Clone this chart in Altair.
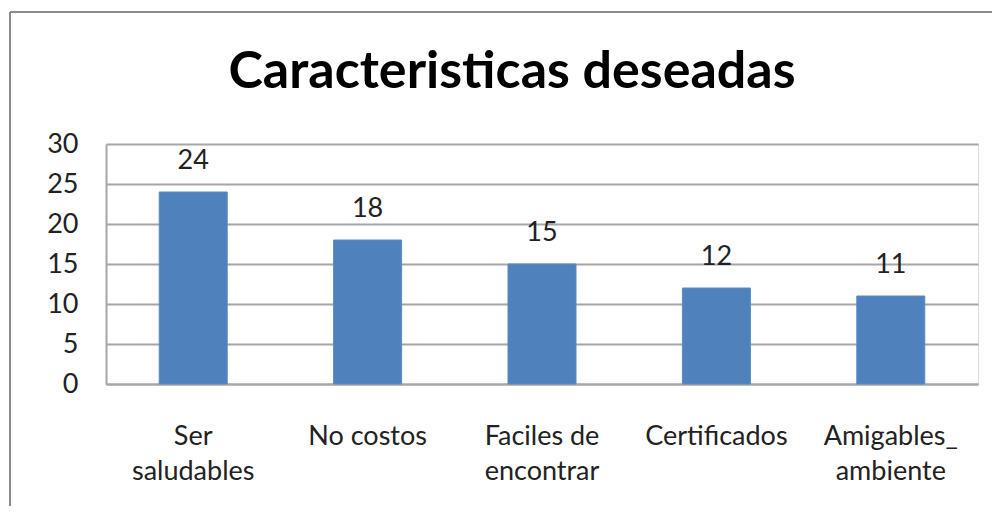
import altair as alt
import pandas as pd

categories = ["Ser\nsaludables", "No costos", "Faciles de\nencontrar", "Certificados", "Amigables_\nambiente"]
values = [24, 18, 15, 12, 11]
y_ticks = [0, 5, 10, 15, 20, 25, 30]
title_text = "Caracteristicas deseadas"

df = pd.DataFrame({"cat": categories, "val": values})
one = pd.DataFrame({"k": [0]})

W, H = 872, 240
FONT = "Lato"
FS = 27

x = alt.X("cat:N", sort=categories, title=None,
          scale=alt.Scale(paddingInner=0.61, paddingOuter=0.305),
          axis=alt.Axis(labelAngle=0, labelFontSize=FS, labelFont=FONT, labelColor="#222",
                        labelPadding=39, ticks=False, domainColor="#a6a6a6", domainWidth=2,
                        labelExpr="split(datum.label, '\\n')", labelLineHeight=35,
                        labelBaseline="top", labelOverlap=False, labelLimit=300))
y = alt.Y("val:Q", title=None,
          scale=alt.Scale(domain=[0, 30]),
          axis=alt.Axis(values=y_ticks, labelFontSize=FS, labelFont=FONT,
                        labelColor="#222", labelPadding=28, ticks=False, labelOverlap=False,
                        domainColor="#a6a6a6", domainWidth=2,
                        grid=True, gridColor="#a6a6a6", gridWidth=2))

base = alt.Chart(df).encode(x=x, y=y)
bars = base.mark_bar(color="#4F81BD", stroke="#5b8cc6", strokeWidth=1)
labels = base.mark_text(fontSize=FS, font=FONT, color="#222", dy=-23, baseline="alphabetic").encode(
    text="val:Q")

title = alt.Chart(one).mark_text(fontSize=52, font=FONT, fontWeight="bold", color="#000",
                                 baseline="alphabetic", align="center").encode(
    x=alt.value(406), y=alt.value(-56), text=alt.value(title_text))

frame_top = alt.Chart(one).mark_rule(color="#8c8c8c", strokeWidth=2).encode(
    x=alt.value(-96), x2=alt.value(900), y=alt.value(-132))
frame_left = alt.Chart(one).mark_rule(color="#8c8c8c", strokeWidth=2).encode(
    x=alt.value(-96), y=alt.value(-132), y2=alt.value(400))

chart = alt.layer(frame_top, frame_left, bars, labels, title).properties(
    width=W, height=H,
    autosize=alt.AutoSizeParams(type="none"),
    padding={"left": 98, "top": 136, "right": 14, "bottom": 122},
).configure_view(stroke=None).configure(background="white")

chart.save("out.html", embed_options={"renderer": "svg", "actions": False})
